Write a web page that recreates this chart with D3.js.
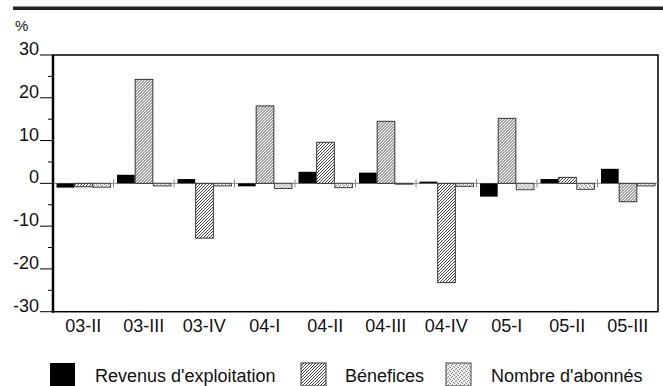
<!DOCTYPE html>
<html>
<head>
<meta charset="utf-8">
<script src="https://cdn.jsdelivr.net/npm/d3@7"></script>
<style>
  body { margin: 0; background: #fff; }
  svg { display: block; font-family: "Liberation Sans", Arial, sans-serif; }
</style>
</head>
<body>
<div id="chart"></div>
<script>
// quarters on the x axis
const categories = ["03-II", "03-III", "03-IV", "04-I", "04-II", "04-III", "04-IV", "05-I", "05-II", "05-III"];
// % change
const revenus = [-1.0, 2.0, 1.0, -0.7, 2.7, 2.5, 0.4, -3.1, 1.0, 3.4];
const benefices = [-0.8, 24.3, -12.8, 18.1, 9.6, 14.5, -23.2, 15.2, 1.4, -4.3];
const abonnes = [-0.9, -0.6, -0.6, -1.2, -1.0, -0.2, -0.7, -1.5, -1.4, -0.6];
const seriesNames = ["Revenus d'exploitation", "Bénefices", "Nombre d'abonnés"];
const yTicks = [-30, -20, -10, 0, 10, 20, 30];
const yMinorTicks = [-25, -15, -5, 5, 15, 25];

const width = 663, height = 386;
const plotLeft = 53, plotRight = 658, plotTop = 55, plotBottom = 311.7;

const svg = d3.select("#chart").append("svg")
    .attr("width", width)
    .attr("height", height);

// patterns for the two hatched series
const defs = svg.append("defs");
const hatch = defs.append("pattern")
    .attr("id", "hatch")
    .attr("patternUnits", "userSpaceOnUse")
    .attr("width", 3).attr("height", 3);
hatch.append("rect").attr("width", 3).attr("height", 3).attr("fill", "#fff");
hatch.append("path")
    .attr("d", "M0,3L3,0M-1,1L1,-1M2,4L4,2")
    .attr("stroke", "#444").attr("stroke-width", 1);

const dots = defs.append("pattern")
    .attr("id", "dots")
    .attr("patternUnits", "userSpaceOnUse")
    .attr("width", 4).attr("height", 4);
dots.append("rect").attr("width", 4).attr("height", 4).attr("fill", "#eee");
[[0, 0], [2, 1], [1, 2], [3, 3]].forEach(([px, py]) => {
    dots.append("rect").attr("x", px).attr("y", py)
        .attr("width", 1).attr("height", 1).attr("fill", "#888");
});

const fills = ["#000", "url(#hatch)", "url(#dots)"];
const strokes = ["none", "#333", "#444"];

// scales
const x0 = d3.scaleBand()
    .domain(categories)
    .range([plotLeft, plotRight])
    .paddingInner(0.1)
    .paddingOuter(0.05);
const x1 = d3.scaleBand()
    .domain(d3.range(3))
    .range([0, x0.bandwidth()]);
const y = d3.scaleLinear().domain([-30, 30]).range([plotBottom, plotTop]);

// top rule
svg.append("rect")
    .attr("x", 13).attr("y", 6.5)
    .attr("width", width - 13).attr("height", 3.5)
    .attr("fill", "#222");

svg.append("text")
    .attr("x", 15).attr("y", 31)
    .attr("font-size", 15)
    .attr("fill", "#222")
    .text("%");

// frame
svg.append("rect")
    .attr("x", plotLeft).attr("y", plotTop)
    .attr("width", plotRight - plotLeft).attr("height", plotBottom - plotTop)
    .attr("fill", "none")
    .attr("stroke", "#000")
    .attr("stroke-width", 1.5);

// zero line and group separators
svg.append("line")
    .attr("x1", plotLeft).attr("x2", plotRight)
    .attr("y1", y(0)).attr("y2", y(0))
    .attr("stroke", "#888").attr("stroke-width", 1);
svg.append("g")
    .selectAll("line")
    .data(categories.slice(1))
    .join("line")
    .attr("x1", d => x0(d) - x0.step() * x0.paddingInner() / 2)
    .attr("x2", d => x0(d) - x0.step() * x0.paddingInner() / 2)
    .attr("y1", y(0) - 4).attr("y2", y(0) + 4)
    .attr("stroke", "#888").attr("stroke-width", 1);

// bars
const rows = categories.map((c, i) => ({
    cat: c,
    values: [revenus[i], benefices[i], abonnes[i]]
}));

const group = svg.append("g")
    .selectAll("g")
    .data(rows)
    .join("g")
    .attr("transform", d => `translate(${x0(d.cat)},0)`);

group.selectAll("rect")
    .data(d => d.values.map((v, k) => ({ k, v })))
    .join("rect")
    .attr("x", d => x1(d.k) + 0.5)
    .attr("width", x1.bandwidth() - 0.5)
    .attr("y", d => y(Math.max(0, d.v)))
    .attr("height", d => Math.abs(y(d.v) - y(0)))
    .attr("fill", d => fills[d.k])
    .attr("stroke", d => strokes[d.k])
    .attr("stroke-width", 1);

// left axis (thick)
svg.append("line")
    .attr("x1", plotLeft).attr("x2", plotLeft)
    .attr("y1", plotTop).attr("y2", plotBottom + 1)
    .attr("stroke", "#000").attr("stroke-width", 2.5);

// y ticks and labels
const yAxis = svg.append("g");
yAxis.selectAll(".major")
    .data(yTicks)
    .join("line")
    .attr("x1", 40).attr("x2", plotLeft)
    .attr("y1", d => y(d)).attr("y2", d => y(d))
    .attr("stroke", "#000").attr("stroke-width", 1);
yAxis.selectAll(".minor")
    .data(yMinorTicks)
    .join("line")
    .attr("x1", 48).attr("x2", plotLeft)
    .attr("y1", d => y(d)).attr("y2", d => y(d))
    .attr("stroke", "#000").attr("stroke-width", 1);
yAxis.selectAll("text")
    .data(yTicks)
    .join("text")
    .attr("x", 39)
    .attr("y", d => y(d))
    .attr("text-anchor", "end")
    .attr("font-size", 18)
    .attr("fill", "#111")
    .text(d => d);

// x labels
svg.append("g")
    .selectAll("text")
    .data(categories)
    .join("text")
    .attr("x", d => x0(d) + x0.bandwidth() / 2)
    .attr("y", 332)
    .attr("text-anchor", "middle")
    .attr("font-size", 18)
    .attr("fill", "#111")
    .text(d => d);

// legend
const legendX = [50, 301, 446];
const legend = svg.append("g")
    .selectAll("g")
    .data(seriesNames)
    .join("g")
    .attr("transform", (d, i) => `translate(${legendX[i]},363)`);
legend.append("rect")
    .attr("width", 25).attr("height", 23)
    .attr("fill", (d, i) => fills[i])
    .attr("stroke", (d, i) => strokes[i]);
legend.append("text")
    .attr("x", (d, i) => [45, 44, 45][i])
    .attr("y", 19)
    .attr("font-size", 18)
    .attr("fill", "#111")
    .text(d => d);
</script>
</body>
</html>
